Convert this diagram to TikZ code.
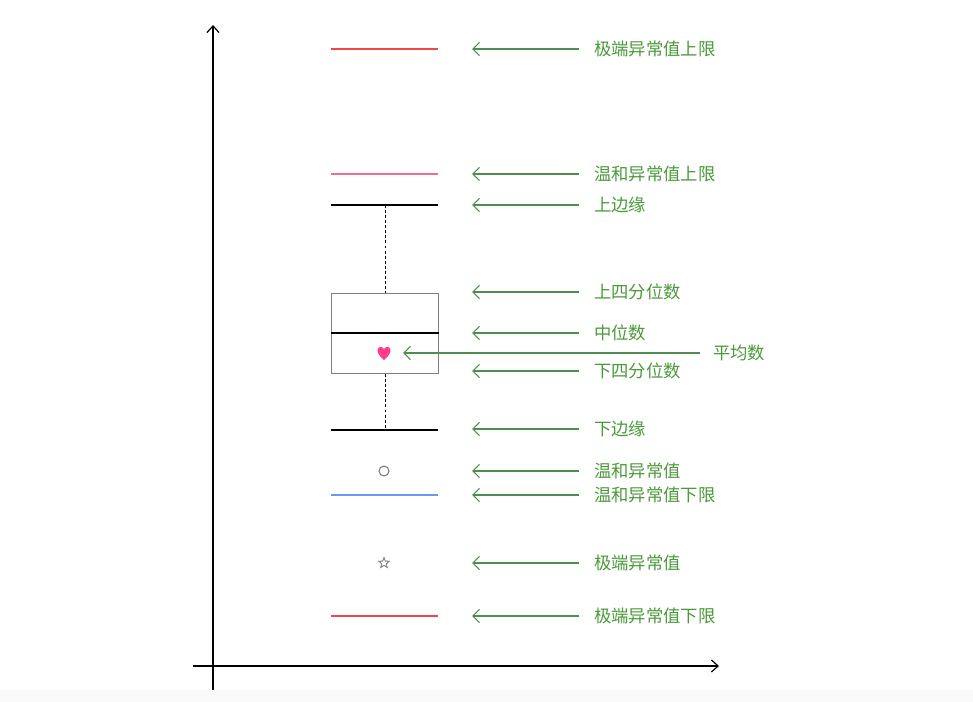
\documentclass[tikz,border=0pt]{standalone}
\usepackage{fontspec}
\newfontfamily\cjk{Noto Sans CJK SC}
\usetikzlibrary{arrows.meta,shapes.geometric}
\definecolor{lblgreen}{HTML}{4A9A3A}
\definecolor{arrgreen}{HTML}{4E8E4E}
\definecolor{extred}{HTML}{F04848}
\definecolor{mildpink}{HTML}{F06A9A}
\definecolor{mildblue}{HTML}{6A9AF0}
\definecolor{heartpink}{HTML}{FF3D8F}
\definecolor{boxgray}{HTML}{808080}
\tikzset{
  axis/.style={draw=black, line width=0.9pt, -{Straight Barb[length=5pt,width=9pt]}},
  refline/.style={line width=0.8pt},
  arr/.style={draw=arrgreen, line width=0.8pt, -{Straight Barb[length=5pt,width=10pt]}},
  lbl/.style={anchor=west, inner sep=0pt, text=lblgreen, font=\cjk\fontsize{13}{15}\selectfont},
  whisk/.style={draw=black, line width=0.6pt, dash pattern=on 2.2pt off 1.6pt},
}
\begin{document}
\begin{tikzpicture}[x=0.75pt,y=-0.75pt]
\useasboundingbox (0,0) rectangle (973,702);
\fill[white] (0,0) rectangle (973,702);
\fill[black!2.5] (0,690) rectangle (973,702);
% axes
\coordinate (ybot) at (213,690);
\coordinate (ytop) at (213,25);
\coordinate (xleft) at (193,666);
\coordinate (xright) at (719,666);
\draw[axis] (ybot) -- (ytop);
\draw[axis] (xleft) -- (xright);
% reference lines
\draw[refline, extred] (331,49) -- (438,49);
\draw[refline, mildpink] (331,174) -- (438,174);
\draw[refline, black] (331,205) -- (438,205);
\draw[refline, black] (331,430) -- (438,430);
\draw[refline, mildblue] (331,495) -- (438,495);
\draw[refline, extred] (331,616) -- (438,616);
% box
\node[draw=boxgray, line width=0.8pt, minimum width=107*0.75pt, minimum height=80*0.75pt, inner sep=0pt, anchor=north west] (box) at (331,293) {};
\draw[black, line width=1.8pt] (box.west |- 0,333) -- (box.east |- 0,333);
\coordinate (wtop) at (385,205);
\coordinate (wbot) at (385,430);
\draw[whisk] (wtop) -- (box.north -| wtop);
\draw[whisk] (box.south -| wbot) -- (wbot);
% mean heart
\fill[heartpink] (384,360) .. controls (378,355) and (377.5,352) .. (377.5,350)
  .. controls (377.5,347) and (382,345.5) .. (384,349)
  .. controls (386,345.5) and (390.5,347) .. (390.5,350)
  .. controls (390.5,352) and (390,355) .. (384,360) -- cycle;
% mild outlier
\node[circle, draw=boxgray, line width=0.8pt, minimum size=10*0.75pt, inner sep=0pt] (mild) at (384,471) {};
% extreme outlier
\node[star, star points=5, star point ratio=2.3, draw=boxgray, line width=0.7pt, minimum size=11*0.75pt, inner sep=0pt] (ext) at (384,563) {};
% labels and arrows
\foreach \n/\y/\t in {a/49/极端异常值上限, b/174/温和异常值上限, c/205/上边缘, d/292/上四分位数, e/333/中位数, f/371/下四分位数, g/429/下边缘, h/471/温和异常值, i/495/温和异常值下限, j/563/极端异常值, k/616/极端异常值下限}{
  \node[lbl] (l\n) at (594,\y) {\t};
  \coordinate (s\n) at (579,\y);
  \coordinate (e\n) at (472,\y);
  \draw[arr] (s\n) -- (e\n);
}
\node[lbl] (lmean) at (713,353) {平均数};
\coordinate (smean) at (700,353);
\coordinate (emean) at (403,353);
\draw[arr] (smean) -- (emean);
\end{tikzpicture}
\end{document}
